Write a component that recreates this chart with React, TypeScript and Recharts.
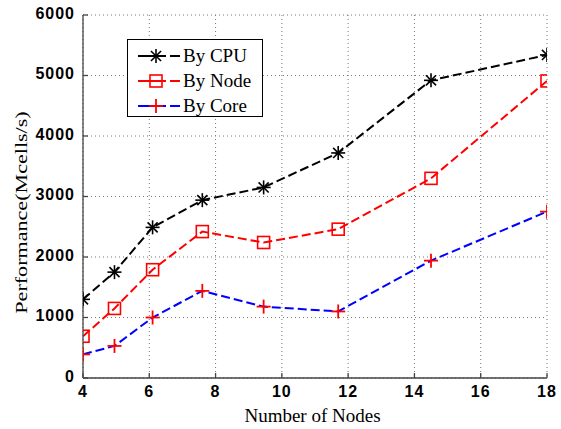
import React from 'react';
import { LineChart, Line, XAxis, YAxis, CartesianGrid, Label } from 'recharts';

const nodeCounts = [4, 4.95, 6.1, 7.6, 9.45, 11.7, 14.5, 18];
const byCpu = [1300, 1750, 2490, 2940, 3150, 3720, 4920, 5340];
const byNode = [690, 1150, 1790, 2420, 2240, 2460, 3300, 4910];
const byCore = [390, 530, 1000, 1440, 1180, 1100, 1940, 2750];
const xTicks = [4, 6, 8, 10, 12, 14, 16, 18];
const yTicks = [0, 1000, 2000, 3000, 4000, 5000, 6000];
const seriesNames = ['By CPU', 'By Node', 'By Core'];

const data = nodeCounts.map((n, i) => ({ n, cpu: byCpu[i], node: byNode[i], core: byCore[i] }));

const AXIS = '#444';
const tickFont = { fill: '#000', fontSize: 16, fontWeight: 'bold', fontFamily: 'Liberation Sans, Arial, sans-serif', letterSpacing: 1 };

const StarMarker = ({ cx, cy }: any) => {
  if (cx == null || cy == null) return <g />;
  const r = 7;
  const d = r * 0.72;
  return (
    <g stroke="#000" strokeWidth={1.6}>
      <line x1={cx - r} y1={cy} x2={cx + r} y2={cy} />
      <line x1={cx} y1={cy - r} x2={cx} y2={cy + r} />
      <line x1={cx - d} y1={cy - d} x2={cx + d} y2={cy + d} />
      <line x1={cx - d} y1={cy + d} x2={cx + d} y2={cy - d} />
    </g>
  );
};

const SquareMarker = ({ cx, cy }: any) => {
  if (cx == null || cy == null) return <g />;
  const h = 6;
  return <rect x={cx - h} y={cy - h} width={2 * h} height={2 * h} fill="none" stroke="#ff0000" strokeWidth={1.6} />;
};

const PlusMarker = ({ cx, cy }: any) => {
  if (cx == null || cy == null) return <g />;
  const r = 7;
  return (
    <g stroke="#ff0000" strokeWidth={1.8}>
      <line x1={cx - r} y1={cy} x2={cx + r} y2={cy} />
      <line x1={cx} y1={cy - r} x2={cx} y2={cy + r} />
    </g>
  );
};

const EmptyTick = () => <g />;

const LegendBox = () => {
  const rows = [
    { name: seriesNames[0], color: '#000', Marker: StarMarker },
    { name: seriesNames[1], color: '#ff0000', Marker: SquareMarker },
    { name: seriesNames[2], color: '#0000ff', Marker: PlusMarker },
  ];
  return (
    <div
      style={{
        position: 'absolute',
        left: 127,
        top: 39,
        border: '1px solid #000',
        background: '#fff',
        width: 134,
        height: 76,
      }}
    >
      <svg width={134} height={76} style={{ display: 'block' }}>
        {rows.map((r, i) => {
          const y = 16 + i * 25;
          return (
            <g key={r.name}>
              <line x1={10} y1={y} x2={52} y2={y} stroke={r.color} strokeWidth={2} strokeDasharray="28 4 10 0" />
              <r.Marker cx={28} cy={y} />
              <text x={55} y={y + 6} fontFamily="Liberation Serif, Times New Roman, serif" fontSize={19} fill="#000">
                {r.name}
              </text>
            </g>
          );
        })}
      </svg>
    </div>
  );
};

const YLabel = (props: any) => {
  const vb = props.viewBox || { x: 0, y: 0, width: 0, height: 0 };
  const cx = 20.5;
  const cy = vb.y + vb.height / 2 + 16;
  return (
    <text
      transform={`translate(${cx},${cy}) rotate(-90) scale(1.3,1)`}
      textAnchor="middle"
      dominantBaseline="central"
      fontFamily="Liberation Serif, Times New Roman, serif"
      fontSize={17}
      fill="#000"
    >
      Performance(Mcells/s)
    </text>
  );
};

const XLabel = (props: any) => {
  const vb = props.viewBox || { x: 0, y: 0, width: 0, height: 0 };
  return (
    <text
      x={vb.x + vb.width / 2 - 2.5}
      y={vb.y + 43.5}
      textAnchor="middle"
      fontFamily="Liberation Serif, Times New Roman, serif"
      fontSize={19}
      fill="#000"
    >
      Number of Nodes
    </text>
  );
};

export default function App() {
  return (
    <div style={{ position: 'absolute', left: 0, top: 0, width: 561, height: 429, background: '#fff' }}>
      <LineChart width={561} height={429} data={data} margin={{ top: 15, right: 14, bottom: 21, left: 0 }}>
        <CartesianGrid stroke="#777" strokeDasharray="1 3" />
        <XAxis
          dataKey="n"
          type="number"
          domain={[4, 18]}
          ticks={xTicks}
          height={30}
          stroke={AXIS}
          strokeWidth={1.3}
          tickSize={-5}
          tickMargin={13}
          tick={tickFont}
          allowDataOverflow
        >
          <Label content={<XLabel />} />
        </XAxis>
        <XAxis
          xAxisId="top"
          orientation="top"
          dataKey="n"
          type="number"
          domain={[4, 18]}
          ticks={xTicks}
          height={0}
          stroke={AXIS}
          strokeWidth={1.3}
          tickSize={-5}
          tick={<EmptyTick />}
          allowDataOverflow
        />
        <YAxis
          type="number"
          domain={[0, 6000]}
          ticks={yTicks}
          width={83}
          stroke={AXIS}
          strokeWidth={1.3}
          tickSize={-5}
          tickMargin={13}
          tick={{ ...tickFont, dy: -2 }}
          allowDataOverflow
        >
          <Label content={<YLabel />} />
        </YAxis>
        <YAxis
          yAxisId="right"
          orientation="right"
          type="number"
          domain={[0, 6000]}
          ticks={yTicks}
          width={0}
          stroke={AXIS}
          strokeWidth={1.3}
          tickSize={-5}
          tick={<EmptyTick />}
          allowDataOverflow
        />
        <Line
          dataKey="cpu"
          name={seriesNames[0]}
          stroke="#000"
          strokeWidth={2}
          strokeDasharray="9 4"
          dot={<StarMarker />}
          isAnimationActive={false}
        />
        <Line
          dataKey="node"
          name={seriesNames[1]}
          stroke="#ff0000"
          strokeWidth={2}
          strokeDasharray="9 4"
          dot={<SquareMarker />}
          isAnimationActive={false}
        />
        <Line
          dataKey="core"
          name={seriesNames[2]}
          stroke="#0000ff"
          strokeWidth={2}
          strokeDasharray="9 4"
          dot={<PlusMarker />}
          isAnimationActive={false}
        />
      </LineChart>
      <LegendBox />
    </div>
  );
}
